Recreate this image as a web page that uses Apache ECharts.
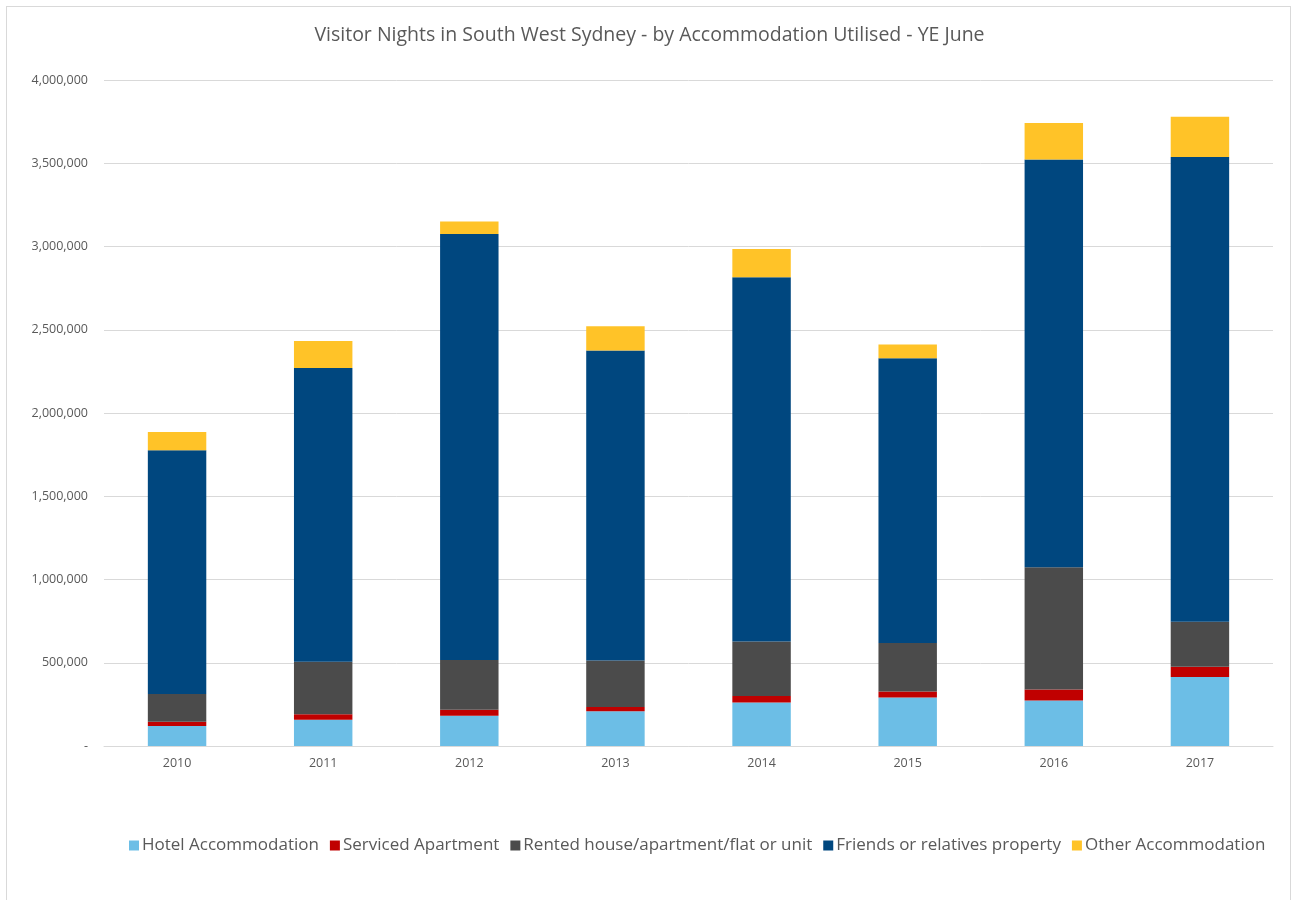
<!DOCTYPE html>
<html>
<head>
<meta charset="utf-8">
<title>Visitor Nights in South West Sydney</title>
<script src="https://cdn.jsdelivr.net/npm/echarts@6/dist/echarts.min.js"></script>
<style>
  html, body { margin: 0; padding: 0; background: #ffffff; }
  #frame { position: absolute; left: 6px; top: 6px; width: 1285px; height: 900px; border: 1px solid #d9d9d9; border-bottom: none; box-sizing: border-box; }
  #chart { position: absolute; left: 0; top: 0; width: 1299px; height: 900px; }
</style>
</head>
<body>
<div id="frame"></div>
<div id="chart"></div>
<script>
// Years ending June
const years = ['2010', '2011', '2012', '2013', '2014', '2015', '2016', '2017'];

// Visitor nights by accommodation type
const hotel    = [120000, 158000, 182000, 208000, 262000, 292000, 273000, 415000];
const serviced = [26000, 32000, 35000, 26000, 39000, 35000, 66000, 61000];
const rented   = [166000, 316000, 300000, 279000, 327000, 292000, 734000, 270000];
const friends  = [1464000, 1764000, 2558000, 1863000, 2187000, 1710000, 2449000, 2791000];
const other    = [110000, 162000, 75000, 145000, 170000, 82000, 220000, 243000];

const seriesNames = [
  'Hotel Accommodation',
  'Serviced Apartment',
  'Rented house/apartment/flat or unit',
  'Friends or relatives property',
  'Other Accommodation'
];
const seriesColors = ['#6cbee6', '#c00000', '#4b4b4b', '#00477f', '#ffc328'];
const seriesData = [hotel, serviced, rented, friends, other];

const textColor = '#595959';
const fontFamily = '"Open Sans", "Noto Sans", sans-serif';

const chart = echarts.init(document.getElementById('chart'), null, { renderer: 'canvas' });

chart.setOption({
  animation: false,
  backgroundColor: 'transparent',
  title: {
    text: 'Visitor Nights in South West Sydney - by Accommodation Utilised - YE June',
    left: 'center',
    top: 20,
    textStyle: { color: textColor, fontSize: 19.5, fontWeight: 'normal', fontFamily: fontFamily }
  },
  legend: {
    bottom: 41,
    left: 124,
    itemWidth: 10,
    itemHeight: 10,
    itemGap: 11,
    icon: 'rect',
    textStyle: { color: textColor, fontSize: 17, fontFamily: fontFamily, padding: [0, 0, 0, -2] },
    data: seriesNames
  },
  grid: { left: 104, right: 26, top: 80, bottom: 154, containLabel: false },
  xAxis: {
    type: 'category',
    data: years,
    axisLine: { lineStyle: { color: '#d9d9d9' } },
    axisTick: { show: false },
    axisLabel: { color: textColor, fontSize: 12.5, fontFamily: fontFamily, margin: 11 }
  },
  yAxis: {
    type: 'value',
    min: 0,
    max: 4000000,
    interval: 500000,
    axisLine: { show: false },
    axisTick: { show: false },
    splitLine: { lineStyle: { color: '#d9d9d9', width: 1 } },
    axisLabel: {
      color: textColor,
      fontSize: 12.5,
      fontFamily: fontFamily,
      margin: 16,
      formatter: function (v) { return v === 0 ? '-' : v.toLocaleString('en-US'); }
    }
  },
  series: seriesData.map(function (d, i) {
    return {
      name: seriesNames[i],
      type: 'bar',
      stack: 'total',
      barWidth: '40%',
      data: d,
      itemStyle: { color: seriesColors[i] }
    };
  })
});
</script>
</body>
</html>
